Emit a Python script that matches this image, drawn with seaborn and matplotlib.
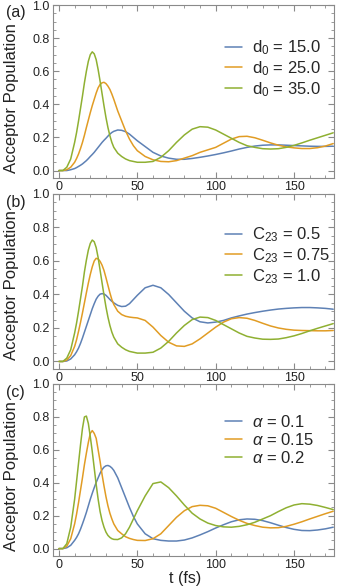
import numpy as np
import pandas as pd
import matplotlib
matplotlib.use("Agg")
import matplotlib.pyplot as plt
import seaborn as sns
from matplotlib.ticker import MultipleLocator

# time grid (fs), finer around the first peaks
t = [0, 2.5, 5, 7.5, 10, 11.25, 12.5, 13.75, 15, 16.25, 17.5, 18.75, 20, 21.25, 22.5,
     23.75, 25, 26.25, 27.5, 28.75, 30, 31.25, 32.5, 33.75, 35, 37.5, 40, 42.5, 45, 47.5,
     50, 55, 60, 65, 70, 75, 80, 85, 90, 95, 100, 105, 110, 115, 120, 125, 130, 135,
     140, 145, 150, 155, 160, 165, 170, 175]

# panel (a): d0
a_d15 = [0, 0, 0, 0.005, 0.012, 0.018, 0.025, 0.032, 0.04, 0.05, 0.06, 0.072, 0.085,
         0.097, 0.11, 0.125, 0.14, 0.155, 0.17, 0.183, 0.195, 0.208, 0.22, 0.23, 0.237,
         0.245, 0.243, 0.235, 0.22, 0.2, 0.18, 0.145, 0.11, 0.088, 0.075, 0.068,
         0.068, 0.073, 0.08, 0.088, 0.097, 0.107, 0.118, 0.13, 0.14, 0.148, 0.153, 0.155,
         0.155, 0.153, 0.151, 0.149, 0.147, 0.146, 0.146, 0.147]
a_d25 = [0, 0, 0.005, 0.02, 0.05, 0.073, 0.10, 0.133, 0.17, 0.213, 0.26, 0.305, 0.35,
         0.392, 0.43, 0.468, 0.50, 0.52, 0.53, 0.533, 0.525, 0.51, 0.49, 0.462, 0.43,
         0.36, 0.30, 0.24, 0.19, 0.15, 0.12, 0.085, 0.065, 0.055, 0.053, 0.06, 0.075,
         0.09, 0.11, 0.125, 0.14, 0.165, 0.19, 0.205, 0.207, 0.198, 0.183, 0.167, 0.153,
         0.143, 0.137, 0.133, 0.133, 0.138, 0.148, 0.163]
a_d35 = [0, 0, 0.02, 0.07, 0.17, 0.23, 0.30, 0.375, 0.45, 0.53, 0.60, 0.66, 0.70, 0.717,
         0.705, 0.67, 0.61, 0.54, 0.465, 0.39, 0.32, 0.26, 0.21, 0.17, 0.14, 0.105,
         0.085, 0.07, 0.06, 0.055, 0.05, 0.05, 0.055, 0.08, 0.12, 0.17, 0.215, 0.25,
         0.265, 0.262, 0.245, 0.22, 0.195, 0.17, 0.15, 0.14, 0.132, 0.13, 0.132, 0.14,
         0.152, 0.167, 0.183, 0.198, 0.213, 0.228]

# panel (b): C23
b_c05 = [0, 0, 0.003, 0.015, 0.04, 0.058, 0.08, 0.108, 0.14, 0.175, 0.21, 0.245, 0.28,
         0.315, 0.345, 0.372, 0.39, 0.402, 0.405, 0.403, 0.395, 0.383, 0.37, 0.359, 0.35,
         0.335, 0.328, 0.33, 0.345, 0.37, 0.395, 0.44, 0.455, 0.44, 0.40, 0.35, 0.30,
         0.26, 0.237, 0.23, 0.235, 0.245, 0.26, 0.272, 0.283, 0.292, 0.30, 0.307, 0.313,
         0.317, 0.32, 0.322, 0.322, 0.32, 0.317, 0.312]
b_c075 = [0, 0, 0.008, 0.035, 0.09, 0.13, 0.18, 0.233, 0.29, 0.35, 0.41, 0.468, 0.52,
          0.565, 0.60, 0.616, 0.612, 0.598, 0.575, 0.543, 0.50, 0.455, 0.41, 0.37, 0.34,
          0.30, 0.28, 0.27, 0.265, 0.262, 0.26, 0.245, 0.205, 0.155, 0.115, 0.093, 0.09,
          0.105, 0.135, 0.17, 0.205, 0.235, 0.255, 0.262, 0.258, 0.245, 0.228, 0.212,
          0.20, 0.192, 0.187, 0.185, 0.184, 0.183, 0.183, 0.185]
b_c10 = [0, 0, 0.02, 0.07, 0.17, 0.23, 0.30, 0.375, 0.45, 0.535, 0.605, 0.665, 0.705,
         0.725, 0.715, 0.68, 0.62, 0.545, 0.47, 0.395, 0.325, 0.265, 0.215, 0.175, 0.145,
         0.105, 0.085, 0.07, 0.06, 0.055, 0.05, 0.05, 0.055, 0.08, 0.12, 0.17, 0.215,
         0.25, 0.265, 0.262, 0.245, 0.22, 0.195, 0.17, 0.15, 0.14, 0.133, 0.132, 0.134,
         0.142, 0.153, 0.167, 0.183, 0.198, 0.212, 0.226]

# panel (c): alpha
c_a01 = [0, 0, 0.005, 0.02, 0.05, 0.068, 0.09, 0.118, 0.15, 0.184, 0.22, 0.26, 0.30,
         0.336, 0.37, 0.402, 0.43, 0.458, 0.48, 0.495, 0.503, 0.505, 0.50, 0.49, 0.475,
         0.43, 0.37, 0.31, 0.25, 0.195, 0.15, 0.09, 0.06, 0.05, 0.046, 0.046, 0.052,
         0.065, 0.083, 0.103, 0.125, 0.145, 0.163, 0.175, 0.18, 0.178, 0.17, 0.157,
         0.142, 0.128, 0.117, 0.11, 0.109, 0.113, 0.12, 0.13]
c_a015 = [0, 0, 0.015, 0.06, 0.15, 0.21, 0.28, 0.355, 0.43, 0.51, 0.58, 0.645, 0.70,
          0.717, 0.70, 0.67, 0.60, 0.53, 0.45, 0.38, 0.315, 0.26, 0.215, 0.18, 0.15,
          0.11, 0.09, 0.072, 0.062, 0.055, 0.05, 0.049, 0.06, 0.09, 0.14, 0.19, 0.23,
          0.255, 0.263, 0.26, 0.245, 0.22, 0.195, 0.172, 0.153, 0.14, 0.13, 0.126,
          0.127, 0.135, 0.148, 0.163, 0.18, 0.196, 0.212, 0.227]
c_a02 = [0, 0, 0.03, 0.13, 0.30, 0.41, 0.52, 0.63, 0.73, 0.80, 0.805, 0.76, 0.68, 0.59,
         0.49, 0.39, 0.30, 0.225, 0.17, 0.13, 0.10, 0.08, 0.068, 0.06, 0.056, 0.055,
         0.065, 0.09, 0.13, 0.18, 0.23, 0.32, 0.395, 0.405, 0.37, 0.32, 0.265, 0.215,
         0.18, 0.155, 0.14, 0.132, 0.13, 0.135, 0.145, 0.16, 0.18, 0.20, 0.225, 0.248,
         0.265, 0.273, 0.27, 0.262, 0.25, 0.237]

labels_a = [r"d$_0$ = 15.0", r"d$_0$ = 25.0", r"d$_0$ = 35.0"]
labels_b = [r"C$_{23}$ = 0.5", r"C$_{23}$ = 0.75", r"C$_{23}$ = 1.0"]
labels_c = [r"$\alpha$ = 0.1", r"$\alpha$ = 0.15", r"$\alpha$ = 0.2"]
panel_tags = ["(a)", "(b)", "(c)"]

colors = ["#5E81B5", "#E19C24", "#8FB032"]

sns.set_style("ticks")
plt.rcParams["font.family"] = ["Liberation Sans", "DejaVu Sans"]
plt.rcParams["mathtext.fontset"] = "custom"
plt.rcParams["mathtext.rm"] = "Liberation Sans"
plt.rcParams["mathtext.it"] = "Liberation Sans:italic"

def make_df(series, labels):
    frames = []
    for s, lab in zip(series, labels):
        frames.append(pd.DataFrame({"t": t, "pop": s, "label": lab}))
    return pd.concat(frames, ignore_index=True)

W, H = 349, 587
fig = plt.figure(figsize=(W / 100, H / 100), dpi=100)

# (top px, bottom px) of each frame
frames_px = [(5, 178), (194, 369), (384, 556)]
panels = [([a_d15, a_d25, a_d35], labels_a),
          ([b_c05, b_c075, b_c10], labels_b),
          ([c_a01, c_a015, c_a02], labels_c)]
legend_anchor = [0.806, 0.82, 0.828]
ylabel_pos = [0.46, 0.48, 0.465]

frame_col = "#8a8a8a"
for i, ((series, labels), (top, bot)) in enumerate(zip(panels, frames_px)):
    ax = fig.add_axes([53 / W, 1 - bot / H, 281 / W, (bot - top) / H])
    df = make_df(series, labels)
    sns.lineplot(data=df, x="t", y="pop", hue="label", palette=colors, ax=ax,
                 linewidth=1.1, legend=True)
    ax.set_xlim(-3.8, 175.5)
    ax.set_ylim(-0.045, 1.0)
    ax.xaxis.set_major_locator(MultipleLocator(50))
    ax.xaxis.set_minor_locator(MultipleLocator(10))
    ax.yaxis.set_minor_locator(MultipleLocator(0.05))
    ax.set_yticks([0, 0.2, 0.4, 0.6, 0.8, 1.0])
    ax.set_yticklabels(["0.0", "0.2", "0.4", "0.6", "0.8", "1.0"])
    ax.tick_params(which="both", direction="in", top=True, right=True,
                   color=frame_col, labelsize=9, labelcolor="#222222", pad=2.5)
    ax.tick_params(which="major", length=4, width=0.8)
    ax.tick_params(which="minor", length=2, width=0.6)
    for sp in ax.spines.values():
        sp.set_color(frame_col)
        sp.set_linewidth(0.8)
    ax.set_ylabel("Acceptor Population", fontsize=12, color="#222222")
    ax.yaxis.set_label_coords(-34 / 281, ylabel_pos[i])
    if i == 2:
        ax.set_xlabel("t (fs)", fontsize=11.5, color="#222222")
        ax.xaxis.label.set_va("center")
        ax.xaxis.set_label_coords(0.47, -22 / (bot - top))
    else:
        ax.set_xlabel("")
    ax.legend(loc="upper left", bbox_to_anchor=(0.612, legend_anchor[i]), frameon=False,
              fontsize=12, handlelength=1.05, handletextpad=0.6, labelspacing=0.12,
              borderpad=0, borderaxespad=0)
    fig.text(6 / W, 1 - (top + 8) / H, panel_tags[i], fontsize=11.5, color="#222222",
             va="center", ha="left")

fig.savefig("out.png", dpi=100)
